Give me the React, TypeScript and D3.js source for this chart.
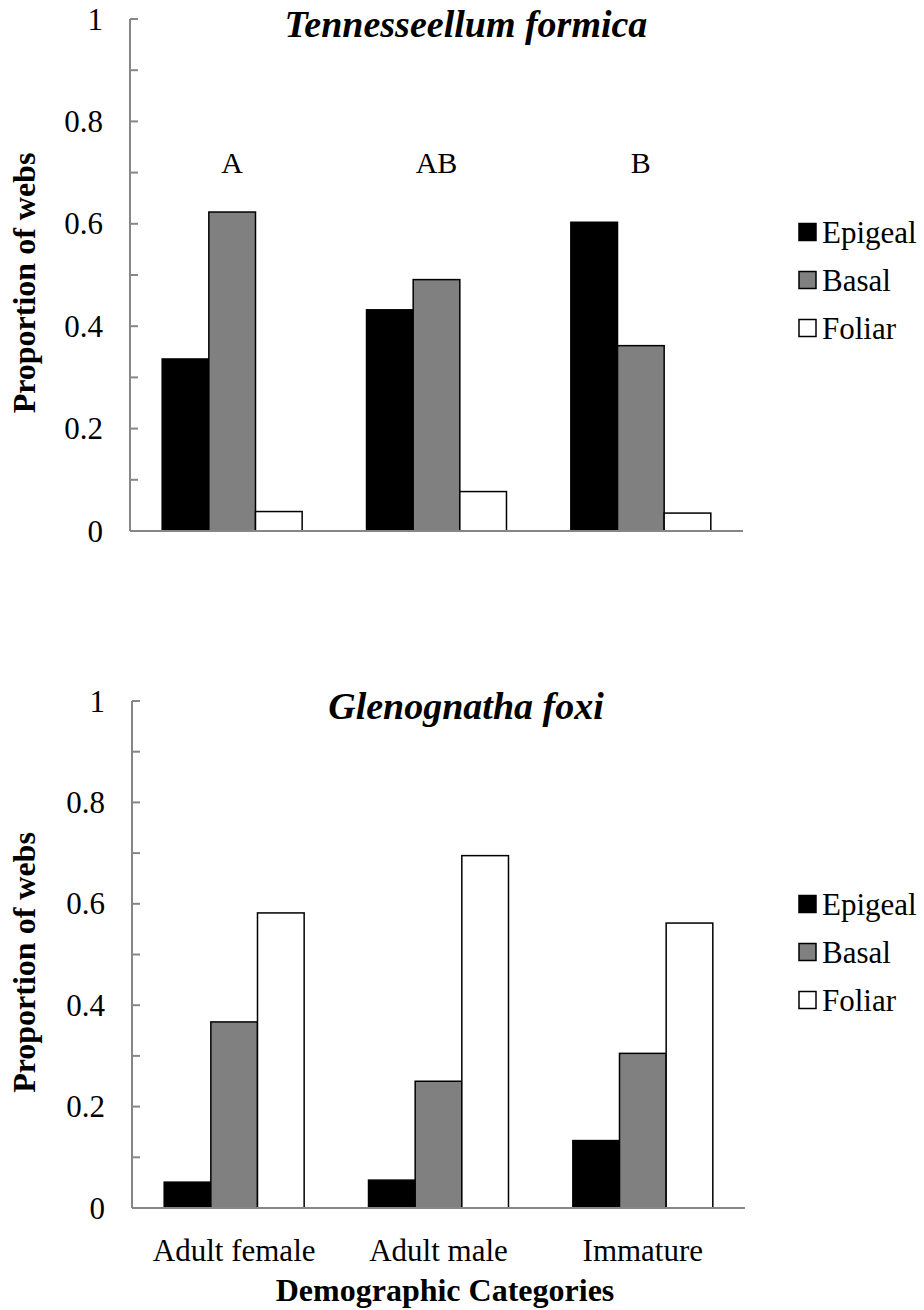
import React from 'react';
import * as d3 from 'd3';

const categories = ['Adult female', 'Adult male', 'Immature'];
const seriesNames = ['Epigeal', 'Basal', 'Foliar'];
const seriesFill = ['#000000', '#808080', '#ffffff'];

// Tennesseellum formica
const tennEpigeal = [0.336, 0.432, 0.603];
const tennBasal = [0.623, 0.491, 0.362];
const tennFoliar = [0.038, 0.077, 0.035];
const tennLetters = ['A', 'AB', 'B'];

// Glenognatha foxi
const gleEpigeal = [0.051, 0.055, 0.133];
const gleBasal = [0.367, 0.25, 0.305];
const gleFoliar = [0.582, 0.695, 0.562];

const yTicks = [0, 0.2, 0.4, 0.6, 0.8, 1];

const FONT = 'Liberation Serif, Times New Roman, serif';
const AXIS = '#868686';

type PanelProps = {
  title: string;
  values: number[][];
  letters?: string[];
  showCats?: boolean;
  x0: number;
  x1: number;
  yBottom: number;
  yTop: number;
  legendY: number;
};

function Panel({ title, values, letters, showCats, x0, x1, yBottom, yTop, legendY }: PanelProps) {
  const x = d3.scaleBand<string>().domain(categories).range([x0, x1]).paddingInner(0.315).paddingOuter(0.1575);
  const xs = d3.scaleBand<string>().domain(seriesNames).range([0, x.bandwidth()]);
  const y = d3.scaleLinear().domain([0, 1]).range([yBottom, yTop]);
  const minor = d3.range(0, 1.0001, 0.1);
  const midY = (yBottom + yTop) / 2;
  const txt = (size: number, bold = false, italic = false) => ({
    fontFamily: FONT,
    fontSize: size,
    fontWeight: bold ? 'bold' : 'normal',
    fontStyle: italic ? 'italic' : 'normal',
  });

  return (
    <g>
      {/* bars */}
      {categories.map((c, ci) => (
        <g key={c} transform={`translate(${x(c)},0)`}>
          {seriesNames.map((s, si) => (
            <rect
              key={s}
              x={xs(s)}
              y={y(values[si][ci])}
              width={xs.bandwidth()}
              height={yBottom - y(values[si][ci])}
              fill={seriesFill[si]}
              stroke="#000"
              strokeWidth={1.5}
            />
          ))}
        </g>
      ))}

      {/* axes */}
      <line x1={x0} x2={x0} y1={yTop} y2={yBottom} stroke={AXIS} strokeWidth={2} />
      <line x1={x0} x2={x1} y1={yBottom} y2={yBottom} stroke={AXIS} strokeWidth={2} />
      {minor.map((t) => (
        <line key={t} x1={x0} x2={x0 + 8} y1={y(t)} y2={y(t)} stroke={AXIS} strokeWidth={2} />
      ))}
      {yTicks.map((t) => (
        <text key={t} x={x0 - 27} y={y(t)} textAnchor="end" dominantBaseline="central" style={txt(31)}>
          {String(t)}
        </text>
      ))}

      <text
        transform={`translate(24,${midY + 8}) rotate(-90)`}
        textAnchor="middle"
        dominantBaseline="central"
        style={txt(32, true)}
      >
        Proportion of webs
      </text>

      <text x={466} y={yTop + 5} textAnchor="middle" dominantBaseline="central" style={txt(38, true, true)}>
        {title}
      </text>

      {letters &&
        letters.map((l, i) => (
          <text
            key={l}
            x={(x(categories[i]) as number) + x.bandwidth() / 2}
            y={y(0.72)}
            textAnchor="middle"
            dominantBaseline="central"
            style={txt(30)}
          >
            {l}
          </text>
        ))}

      {showCats &&
        categories.map((c) => (
          <text
            key={c}
            x={(x(c) as number) + x.bandwidth() / 2}
            y={yBottom + 42}
            textAnchor="middle"
            dominantBaseline="central"
            style={txt(31)}
          >
            {c}
          </text>
        ))}

      {/* legend */}
      {seriesNames.map((s, i) => {
        const ly = legendY + (i - 1) * 48;
        return (
          <g key={s}>
            <rect x={799} y={ly - 8.5} width={17} height={17} fill={seriesFill[i]} stroke="#000" strokeWidth={1.5} />
            <text x={822} y={ly} dominantBaseline="central" style={txt(31)}>
              {s}
            </text>
          </g>
        );
      })}
    </g>
  );
}

export default function App() {
  return (
    <div style={{ position: 'absolute', left: 0, top: 0 }}>
      <svg width={924} height={1310} style={{ display: 'block', background: '#fff' }}>
        <Panel
          title="Tennesseellum formica"
          values={[tennEpigeal, tennBasal, tennFoliar]}
          letters={tennLetters}
          x0={130}
          x1={743}
          yBottom={531}
          yTop={19}
          legendY={280}
        />
        <Panel
          title="Glenognatha foxi"
          values={[gleEpigeal, gleBasal, gleFoliar]}
          showCats
          x0={132}
          x1={745}
          yBottom={1208}
          yTop={701}
          legendY={952}
        />
        <text
          x={445}
          y={1290}
          textAnchor="middle"
          dominantBaseline="central"
          style={{ fontFamily: FONT, fontSize: 32, fontWeight: 'bold' }}
        >
          Demographic Categories
        </text>
      </svg>
    </div>
  );
}
